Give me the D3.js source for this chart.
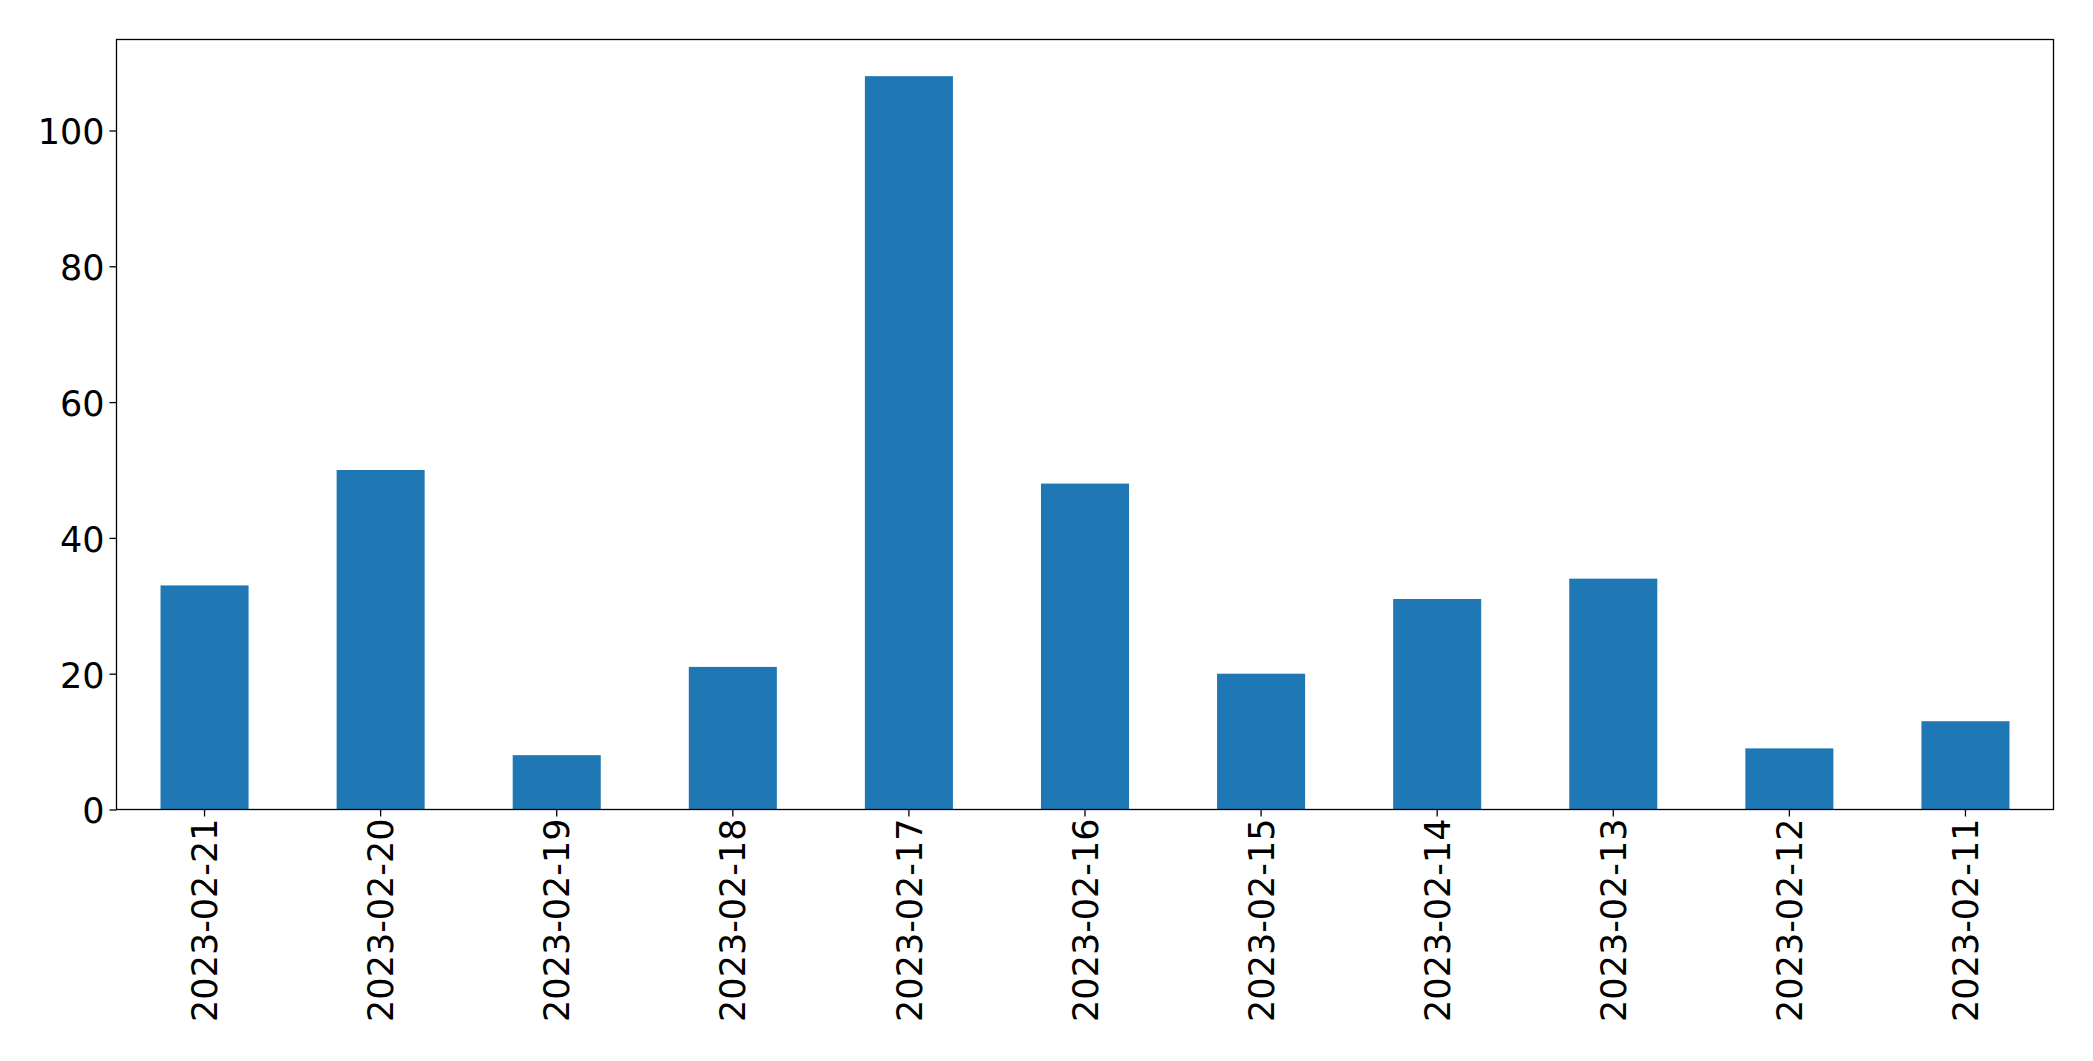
<!DOCTYPE html>
<html>
<head>
<meta charset="utf-8">
<script src="https://cdn.jsdelivr.net/npm/d3@7"></script>
<style>
  html, body { margin: 0; padding: 0; background: #fff; }
  svg { display: block; }
</style>
</head>
<body>
<script>
const categories = ["2023-02-21","2023-02-20","2023-02-19","2023-02-18","2023-02-17","2023-02-16","2023-02-15","2023-02-14","2023-02-13","2023-02-12","2023-02-11"];
const values = [33, 50, 8, 21, 108, 48, 20, 31, 34, 9, 13];
const yTicks = [0, 20, 40, 60, 80, 100];

const W = 2093, H = 1061;
const margin = {left: 116.5, right: W - 2053.5, top: 39.5, bottom: H - 809.5};
const iw = W - margin.left - margin.right;
const ih = H - margin.top - margin.bottom;

const svg = d3.select("body").append("svg").attr("width", W).attr("height", H);
const g = svg.append("g").attr("transform", `translate(${margin.left},${margin.top})`);

const x = d3.scaleBand().domain(categories).range([0, iw]).paddingInner(0.5).paddingOuter(0.25);
const yMax = d3.max(values) * 1.05;
const y = d3.scaleLinear().domain([0, yMax]).range([ih, 0]);

g.selectAll("rect.bar").data(values).enter().append("rect")
  .attr("class", "bar")
  .attr("x", (d, i) => x(categories[i]))
  .attr("width", x.bandwidth())
  .attr("y", d => y(d))
  .attr("height", d => ih - y(d))
  .attr("fill", "#1f77b4");

const fontFam = "'DejaVu Sans', sans-serif";
const fs = "35px";

const yAxis = g.append("g").call(d3.axisLeft(y).tickValues(yTicks).tickSize(7).tickPadding(5).tickFormat(d3.format("d")));
yAxis.select(".domain").remove();
yAxis.selectAll("text").style("font-family", fontFam).style("font-size", fs).attr("fill", "#000").attr("dy", "0.38em");
yAxis.selectAll("line").attr("stroke", "#000").attr("stroke-width", 1.3);

const xAxis = g.append("g").attr("transform", `translate(0,${ih})`).call(d3.axisBottom(x).tickSize(7).tickPadding(10));
xAxis.select(".domain").remove();
xAxis.selectAll("line").attr("stroke", "#000").attr("stroke-width", 1.3);
xAxis.selectAll("text")
  .style("font-family", fontFam).style("font-size", fs).attr("fill", "#000")
  .attr("text-anchor", "end")
  .attr("transform", "rotate(-90)")
  .attr("x", -9).attr("y", 0).attr("dy", "0.36em");

g.append("rect").attr("x", 0).attr("y", 0).attr("width", iw).attr("height", ih)
  .attr("fill", "none").attr("stroke", "#000").attr("stroke-width", 1.3);
</script>
</body>
</html>
